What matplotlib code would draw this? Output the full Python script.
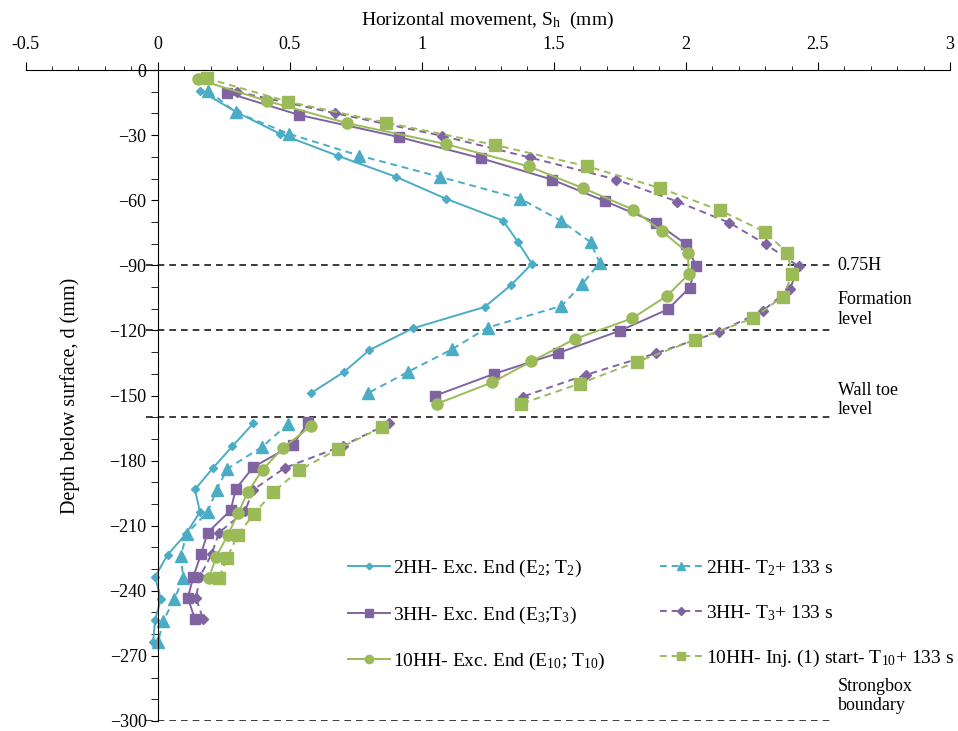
import numpy as np
import matplotlib
matplotlib.use("Agg")
import matplotlib.pyplot as plt

plt.rcParams["font.family"] = ["Liberation Serif", "DejaVu Serif"]
plt.rcParams["mathtext.fontset"] = "custom"
plt.rcParams["mathtext.rm"] = "Liberation Serif"
plt.rcParams["mathtext.it"] = "Liberation Serif:italic"

nan = np.nan

# ---------------------------------------------------
# Data (depth in mm, movement in mm)
# nan splits the profile above and below the wall toe
# ---------------------------------------------------
d_2hh = [-9.5, -19.5, -29.4, -39.5, -49.2, -59.4, -69.4, -79.3, -89.3, -99.2, -109.2, -119.1, -129.1, -139.1, -149.0, nan,
         -162.8, -173.5, -183.3, -193.3, -203.7, -213.9, -223.3, -233.5, -243.8, -253.5, -263.4]
x_2hh = [0.160, 0.300, 0.463, 0.681, 0.902, 1.093, 1.308, 1.364, 1.417, 1.337, 1.238, 0.965, 0.801, 0.706, 0.579, nan,
         0.362, 0.282, 0.210, 0.141, 0.160, 0.106, 0.038, -0.010, 0.012, -0.010, -0.017]

d_2hh_133 = [-9.5, -19.4, -29.4, -39.4, -49.2, -59.3, -69.4, -79.3, -88.8, -98.8, -108.7, -118.7, -128.6, -139.1, -149.0, nan,
             -163.1, -173.8, -183.8, -193.4, -203.7, -213.6, -224.1, -234.0, -244.0, -253.7, -263.4]
x_2hh_133 = [0.191, 0.295, 0.497, 0.762, 1.068, 1.373, 1.526, 1.639, 1.673, 1.607, 1.529, 1.249, 1.116, 0.948, 0.795, nan,
             0.494, 0.394, 0.263, 0.223, 0.189, 0.110, 0.087, 0.097, 0.063, 0.021, 0.002]

d_3hh = [-10.4, -20.7, -30.9, -40.6, -50.5, -60.5, -70.4, -80.1, -90.2, -100.3, -110.3, -120.2, -130.5, -140.1, -150.1, nan,
         -162.3, -172.6, -183.0, -193.0, -202.9, -213.2, -223.1, -233.5, -243.2, -253.1]
x_3hh = [0.261, 0.535, 0.914, 1.223, 1.493, 1.695, 1.888, 1.999, 2.039, 2.014, 1.932, 1.749, 1.515, 1.272, 1.050, nan,
         0.570, 0.513, 0.362, 0.296, 0.276, 0.189, 0.164, 0.135, 0.114, 0.141]

d_3hh_133 = [-10.0, -19.9, -30.3, -40.3, -50.5, -60.6, -70.4, -80.4, -90.5, -100.7, -111.0, -120.7, -130.6, -140.5, -150.5, nan,
             -162.8, -173.1, -183.3, -193.4, -203.4, -213.2, -223.1, -233.5, -243.2, -253.1]
x_3hh_133 = [0.300, 0.671, 1.075, 1.409, 1.737, 1.967, 2.165, 2.304, 2.427, 2.395, 2.291, 2.125, 1.885, 1.621, 1.383, nan,
             0.876, 0.702, 0.482, 0.362, 0.330, 0.232, 0.204, 0.160, 0.145, 0.172]

d_10hh = [-4.3, -14.2, -24.5, -34.1, -44.4, -54.4, -64.3, -74.3, -84.2, -94.2, -104.1, -114.4, -124.0, -134.3, -143.9, -153.9, nan,
          -164.2, -174.3, -184.2, -194.5, -204.1, -214.4, -224.3, -234.3]
x_10hh = [0.153, 0.412, 0.717, 1.090, 1.405, 1.610, 1.800, 1.909, 2.008, 2.010, 1.928, 1.797, 1.579, 1.415, 1.267, 1.056, nan,
          0.579, 0.473, 0.397, 0.341, 0.305, 0.265, 0.221, 0.194]

d_10hh_inj = [-3.8, -14.6, -24.2, -34.5, -44.4, -54.4, -64.6, -74.6, -84.2, -94.2, -104.4, -114.5, -124.4, -134.5, -144.5, -153.9, nan,
              -164.6, -174.6, -184.5, -194.5, -204.4, -214.4, -224.7, -234.3]
x_10hh_inj = [0.185, 0.494, 0.863, 1.276, 1.627, 1.903, 2.128, 2.300, 2.384, 2.403, 2.367, 2.253, 2.033, 1.815, 1.598, 1.375, nan,
              0.848, 0.683, 0.535, 0.437, 0.365, 0.303, 0.263, 0.232]

# reference levels
level_depths = [-90, -120, -160, -300]
level_labels = ["0.75H", "Formation\nlevel", "Wall toe\nlevel", "Strongbox\nboundary"]
label_depths = [-90, -110.5, -152, -288.5]

blue = "#4BACC6"
purple = "#8064A2"
green = "#9BBB59"
dash = (0, (3.5, 2.5))

fig = plt.figure(figsize=(9.58, 7.31), dpi=100)
ax = fig.add_axes([0.0268, 0.0137, 0.9648, 0.8905])

# reference lines
for d in level_depths:
    ax.plot([-0.045, 2.55], [d, d], color="#1a1a1a", lw=1.2, ls=(0, (4, 3)), zorder=1)
for d, t in zip(label_depths, level_labels):
    ax.text(2.575, d, t, fontsize=13, va="center", ha="left", linespacing=1.2)

h1, = ax.plot(x_2hh, d_2hh, color=blue, lw=1.4, marker="D", ms=4.5,
              label="2HH- Exc. End (E$_2$; T$_2$)")
h4, = ax.plot(x_2hh_133, d_2hh_133, color=blue, lw=1.4, ls=dash, marker="^", ms=8,
              label="2HH- T$_2$+ 133 s")
h2, = ax.plot(x_3hh, d_3hh, color=purple, lw=1.4, marker="s", ms=7.5,
              label="3HH- Exc. End (E$_3$;T$_3$)")
h5, = ax.plot(x_3hh_133, d_3hh_133, color=purple, lw=1.4, ls=dash, marker="D", ms=5.5,
              label="3HH- T$_3$+ 133 s")
h3, = ax.plot(x_10hh, d_10hh, color=green, lw=1.4, marker="o", ms=8,
              label="10HH- Exc. End (E$_{10}$; T$_{10}$)")
h6, = ax.plot(x_10hh_inj, d_10hh_inj, color=green, lw=1.4, ls=dash, marker="s", ms=8,
              label="10HH- Inj. (1) start- T$_{10}$+ 133 s")

ax.set_xlim(-0.5, 3)
ax.set_ylim(-300, 0)

# axes: x on top, y spine through x = 0
ax.xaxis.tick_top()
ax.xaxis.set_label_position("top")
ax.spines["left"].set_position(("data", 0))
ax.spines["right"].set_visible(False)
ax.spines["bottom"].set_visible(False)
ax.set_xticks(np.arange(-0.5, 3.01, 0.5))
ax.set_xticklabels(["-0.5", "0", "0.5", "1", "1.5", "2", "2.5", "3"])
ax.set_xticks(np.arange(-0.5, 3.01, 0.1), minor=True)
ax.set_yticks(np.arange(-300, 1, 30))
ax.set_yticks(np.arange(-300, 1, 10), minor=True)
ax.tick_params(axis="x", which="major", direction="out", length=6, labelsize=13, pad=6)
ax.tick_params(axis="x", which="minor", direction="out", length=3)
ax.tick_params(axis="y", which="major", direction="out", length=5, labelsize=13, pad=3)
ax.tick_params(axis="y", which="minor", direction="out", length=5)

ax.set_xlabel("Horizontal movement, S$_\\mathrm{h}$  (mm)", fontsize=14, labelpad=8)
ax.set_ylabel("Depth below surface, d (mm)", fontsize=14.5)
ax.yaxis.set_label_coords(0.0587, 0.5)

ax.legend(handles=[h1, h2, h3, h4, h5, h6], ncol=2, frameon=False, fontsize=14,
          loc="upper left", bbox_to_anchor=(0.34, 0.262), handlelength=2.2,
          handletextpad=0.15, labelspacing=1.29, columnspacing=2.8,
          borderaxespad=0, markerscale=0.75)

fig.savefig("out.png", dpi=100)
